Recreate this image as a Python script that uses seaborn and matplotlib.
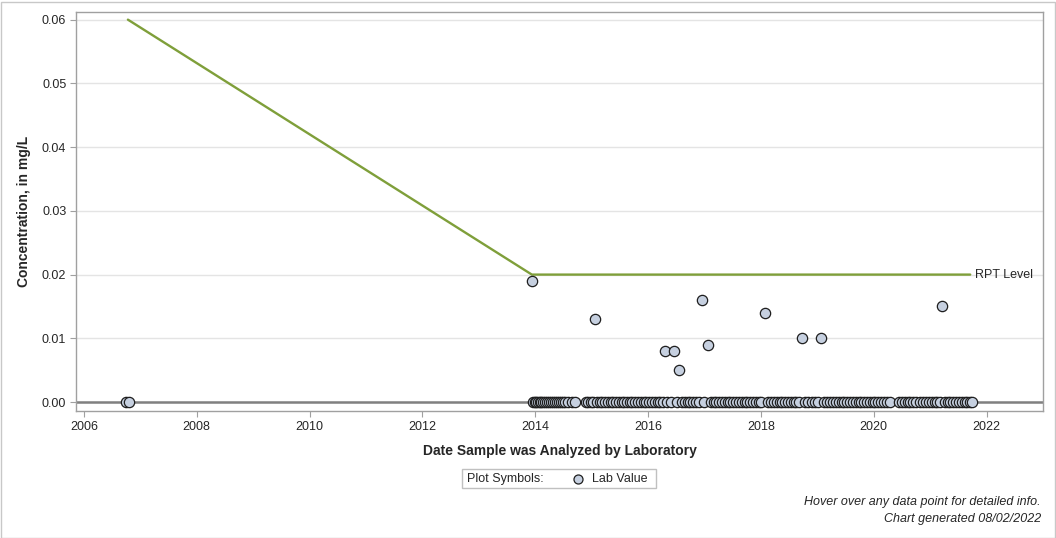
import numpy as np
import pandas as pd
import seaborn as sns
import matplotlib.pyplot as plt
from matplotlib.lines import Line2D
from matplotlib.patches import Rectangle

# decimal-year sample dates and lab values (mg/L)
detect_dates = [2013.94, 2015.06, 2016.30, 2016.46, 2016.55, 2016.96, 2017.06,
                2018.07, 2018.73, 2019.07, 2021.21]
detect_values = [0.019, 0.013, 0.008, 0.008, 0.005, 0.016, 0.009,
                 0.014, 0.010, 0.010, 0.015]

zero_dates = [
    2006.74, 2006.80,
    2013.96, 2013.99, 2014.02, 2014.05, 2014.08, 2014.11, 2014.14, 2014.17,
    2014.20, 2014.24, 2014.28, 2014.31, 2014.35, 2014.38, 2014.42, 2014.45,
    2014.49, 2014.53, 2014.58, 2014.66, 2014.70,
    2014.90, 2014.94, 2014.98, 2015.02, 2015.10, 2015.14, 2015.19, 2015.24,
    2015.29, 2015.34, 2015.38, 2015.43, 2015.48, 2015.53, 2015.58, 2015.63,
    2015.68, 2015.72, 2015.77, 2015.82, 2015.87, 2015.92, 2015.97,
    2016.02, 2016.07, 2016.12, 2016.17, 2016.22, 2016.27, 2016.34, 2016.40,
    2016.51, 2016.60, 2016.65, 2016.70, 2016.75, 2016.80, 2016.85, 2016.90,
    2017.00, 2017.11, 2017.16, 2017.21, 2017.26, 2017.31, 2017.36, 2017.41,
    2017.46, 2017.51, 2017.56, 2017.61, 2017.66, 2017.71, 2017.76, 2017.81,
    2017.86, 2017.91, 2017.96, 2018.01, 2018.12, 2018.18, 2018.23, 2018.28,
    2018.33, 2018.38, 2018.43, 2018.48, 2018.53, 2018.58, 2018.63, 2018.68,
    2018.78, 2018.84, 2018.90, 2018.96, 2019.02, 2019.12, 2019.18, 2019.23,
    2019.28, 2019.33, 2019.38, 2019.43, 2019.48, 2019.53, 2019.58, 2019.63,
    2019.68, 2019.73, 2019.78, 2019.83, 2019.88, 2019.93, 2019.98, 2020.03,
    2020.08, 2020.13, 2020.18, 2020.23, 2020.28, 2020.45, 2020.50, 2020.55,
    2020.60, 2020.65, 2020.70, 2020.75, 2020.82, 2020.88, 2020.93, 2020.98,
    2021.03, 2021.08, 2021.13, 2021.17, 2021.26, 2021.31, 2021.36, 2021.41,
    2021.46, 2021.51, 2021.56, 2021.61, 2021.66, 2021.71, 2021.75,
]

rpt_dates = [2006.78, 2013.94, 2021.71]
rpt_levels = [0.06, 0.02, 0.02]

x_ticks = [2006, 2008, 2010, 2012, 2014, 2016, 2018, 2020, 2022]
y_ticks = [0.00, 0.01, 0.02, 0.03, 0.04, 0.05, 0.06]

samples = pd.DataFrame({
    "date": detect_dates + zero_dates,
    "value": detect_values + [0.0] * len(zero_dates),
})
rpt = pd.DataFrame({"date": rpt_dates, "level": rpt_levels})

sns.set_style("white")
plt.rcParams['font.family'] = ['Liberation Sans', 'DejaVu Sans']

fig = plt.figure(figsize=(10.56, 5.38), dpi=100)
ax = fig.add_axes([76 / 1056, 127 / 538, 967 / 1056, 399 / 538])

ax.set_xlim(2005.86, 2023.0)
ax.set_ylim(-0.0014, 0.0612)
ax.set_yticks(y_ticks)
ax.set_yticklabels([f"{v:.2f}" for v in y_ticks])
ax.set_xticks(x_ticks)
ax.grid(axis="y", color="#e4e4e4", linewidth=1)
ax.set_axisbelow(True)

ax.axhline(0, color="#808080", linewidth=1.8, zorder=1)

sns.lineplot(data=rpt, x="date", y="level", ax=ax, color="#7f9f3a",
             linewidth=1.7, zorder=2)
ax.text(rpt_dates[-1] + 0.08, rpt_levels[-1], "RPT Level", fontsize=9,
        va="center", ha="left")

sns.scatterplot(data=samples, x="date", y="value", ax=ax, s=55,
                color="#c6d0e0", edgecolor="#1e1e1e", linewidth=0.9,
                zorder=3, legend=False)

for side in ax.spines.values():
    side.set_color("#a0a0a0")
    side.set_linewidth(1)
ax.tick_params(axis="both", labelsize=9, length=4, color="#a0a0a0",
               left=True, bottom=True, pad=3)

ax.set_xlabel("Date Sample was Analyzed by Laboratory", fontsize=10,
              fontweight="bold", labelpad=8)
ax.set_ylabel("Concentration, in mg/L", fontsize=10, fontweight="bold",
              labelpad=8)

# legend box
fig.add_artist(Rectangle((462 / 1056, 1 - 488 / 538), 194 / 1056, 19 / 538,
                         transform=fig.transFigure, facecolor="white",
                         edgecolor="#c0c0c0", linewidth=1))
fig.text(467 / 1056, 1 - 479 / 538, "Plot Symbols:", fontsize=9,
         va="center", ha="left")
fig.add_artist(Line2D([578 / 1056], [1 - 479 / 538], marker="o",
                      markersize=6.5, markerfacecolor="#c6d0e0",
                      markeredgecolor="#1e1e1e", markeredgewidth=0.9,
                      linestyle="none", transform=fig.transFigure))
fig.text(592 / 1056, 1 - 479 / 538, "Lab Value", fontsize=9,
         va="center", ha="left")

fig.text(1041 / 1056, 1 - 502 / 538,
         "Hover over any data point for detailed info.", fontsize=9,
         style="italic", ha="right", va="center")
fig.text(1041 / 1056, 1 - 519 / 538, "Chart generated 08/02/2022",
         fontsize=9, style="italic", ha="right", va="center")

# outer border
fig.add_artist(Rectangle((0.5 / 1056, 0.5 / 538), 1054 / 1056, 536 / 538,
                         transform=fig.transFigure, fill=False,
                         edgecolor="#c8c8c8", linewidth=1))

fig.savefig("out.png", dpi=100)
